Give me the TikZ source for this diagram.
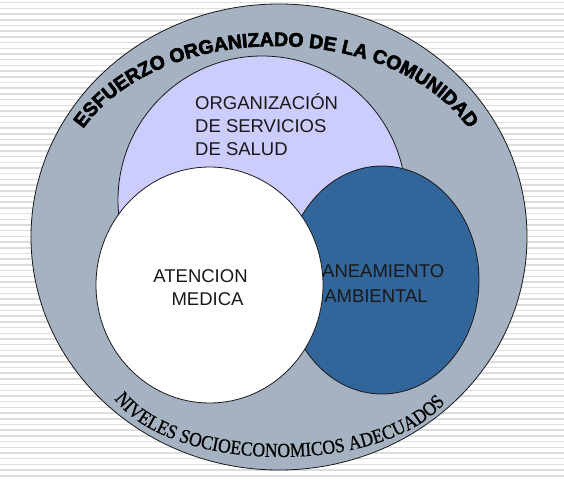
\documentclass[tikz,border=0pt]{standalone}
\usepackage{fontspec}
\setmainfont{Liberation Sans}
\newfontfamily\heavyfont[FakeBold=3]{Liberation Sans Bold}
\newfontfamily\serffont[FakeStretch=0.88,FakeBold=0.6]{Liberation Serif}
\usetikzlibrary{decorations.text}
\definecolor{ringgray}{RGB}{164,178,193}
\definecolor{lav}{RGB}{204,204,255}
\definecolor{sblue}{RGB}{50,101,153}
\definecolor{stripe}{RGB}{221,221,221}
\definecolor{ink}{RGB}{25,25,25}
\begin{document}
\begin{tikzpicture}[x=1pt,y=1pt,
  outl/.style={draw=ink, line width=0.8pt},
  txt/.style={font=\fontsize{18.5}{18.5}\selectfont, text=ink, inner sep=0pt}]
\useasboundingbox (0,0) rectangle (564,480);
\fill[white] (0,0) rectangle (564,480);
\foreach \k in {0,...,84} \draw[stripe, line width=1.5pt] (0,{477.3-5.7*\k}) -- (564,{477.3-5.7*\k});
% outer ring
\filldraw[outl, fill=ringgray] (279,243) ellipse [x radius=248pt, y radius=233pt];
% curved texts
\coordinate (ta) at (76,340);
\coordinate (tb) at (476,340);
\path[decorate, decoration={text along path, text align=center,
  text={|\heavyfont\fontsize{19.5}{19.5}\selectfont|ESFUERZO ORGANIZADO DE LA COMUNIDAD}}]
  (ta) .. controls (148.3,465.3) and (403.7,465.3) .. (tb);
\coordinate (ba) at (108,91);
\coordinate (bb) at (452,87);
\path[decorate, decoration={text along path, text align=center,
  text={|\serffont\fontsize{20}{20}\selectfont|NIVELES SOCIOECONOMICOS ADECUADOS}}]
  (ba) .. controls (156,1) and (399,1) .. (bb);
% lavender
\filldraw[outl, fill=lav] (262,280) circle [radius=144pt];
% blue
\filldraw[outl, fill=sblue] (382,200) ellipse [x radius=97pt, y radius=114pt];
\node[txt, anchor=base] (san1) at (377,203) {SANEAMIENTO};
\node[txt, anchor=base] (san2) at (376,178) {AMBIENTAL};
% white
\filldraw[outl, fill=white] (209.5,195) ellipse [x radius=113.5pt, y radius=118pt];
\node[txt, anchor=base] (at1) at (200.5,198) {ATENCION};
\node[txt, anchor=base] (at2) at (207.5,175) {MEDICA};
% organizacion
\node[txt, anchor=base west] (org1) at (195,370) {ORGANIZACIÓN};
\node[txt, anchor=base west] (org2) at (195,347) {DE SERVICIOS};
\node[txt, anchor=base west] (org3) at (195,324) {DE SALUD};
\end{tikzpicture}
\end{document}
